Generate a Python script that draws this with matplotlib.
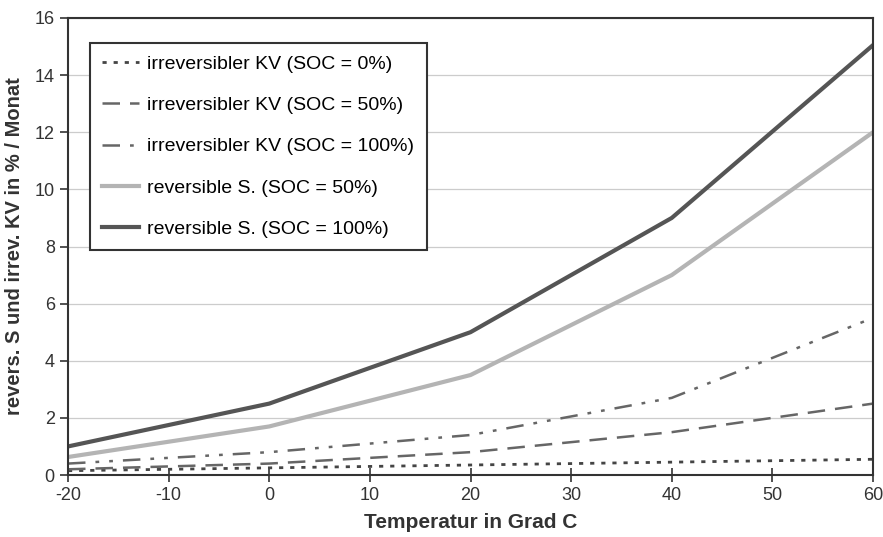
import matplotlib
matplotlib.use('Agg')
import matplotlib.pyplot as plt

plt.rcParams['font.family'] = ['Liberation Sans', 'DejaVu Sans']
plt.rcParams['axes.unicode_minus'] = False

temps = [-20, 0, 20, 40, 60]
irr_soc0 = [0.15, 0.25, 0.35, 0.45, 0.55]
irr_soc50 = [0.2, 0.4, 0.8, 1.5, 2.5]
irr_soc100 = [0.4, 0.8, 1.4, 2.7, 5.5]
rev_soc50 = [0.63, 1.7, 3.5, 7.0, 12.0]
rev_soc100 = [1.0, 2.5, 5.0, 9.0, 15.05]

labels = ['irreversibler KV (SOC = 0%)', 'irreversibler KV (SOC = 50%)',
          'irreversibler KV (SOC = 100%)', 'reversible S. (SOC = 50%)',
          'reversible S. (SOC = 100%)']

fig = plt.figure(figsize=(8.83, 5.37), dpi=100)
ax = fig.add_axes([68 / 883, 62 / 537, 805 / 883, 457 / 537])

ax.plot(temps, irr_soc0, color='#444444', lw=2, linestyle=(0, (1.5, 2.5)), label=labels[0])
ax.plot(temps, irr_soc50, color='#666666', lw=1.8, linestyle=(0, (7, 4)), label=labels[1])
ax.plot(temps, irr_soc100, color='#666666', lw=1.8, linestyle=(0, (7, 4, 1.5, 4, 1.5, 4)), label=labels[2])
ax.plot(temps, rev_soc50, color='#b4b4b4', lw=3, label=labels[3])
ax.plot(temps, rev_soc100, color='#555555', lw=3, label=labels[4])

ax.set_xlim(-20, 60)
ax.set_ylim(0, 16)
ax.set_xticks(range(-20, 61, 10))
ax.set_yticks(range(0, 17, 2))
ax.yaxis.grid(True, color='#cccccc', lw=0.9)
ax.set_axisbelow(True)
for s in ax.spines.values():
    s.set_color('#333333')
    s.set_linewidth(1.5)
ax.tick_params(axis='both', labelsize=13, colors='#333333', length=6, width=1.2)
ax.tick_params(axis='x', direction='inout', length=10, pad=4)
ax.set_xlabel('Temperatur in Grad C', fontsize=15, fontweight='bold', color='#333333', labelpad=6)
ax.set_ylabel('revers. S und irrev. KV in % / Monat', fontsize=14.5, fontweight='bold', color='#333333', labelpad=8)

leg = ax.legend(loc='upper left', bbox_to_anchor=(0.027, 0.945), borderaxespad=0, fontsize=14,
                fancybox=False, edgecolor='#333333', framealpha=1, handlelength=1.9,
                labelspacing=1.22, borderpad=0.62, handletextpad=0.45)
leg.get_frame().set_linewidth(1.5)

fig.savefig('out.png', dpi=100)
